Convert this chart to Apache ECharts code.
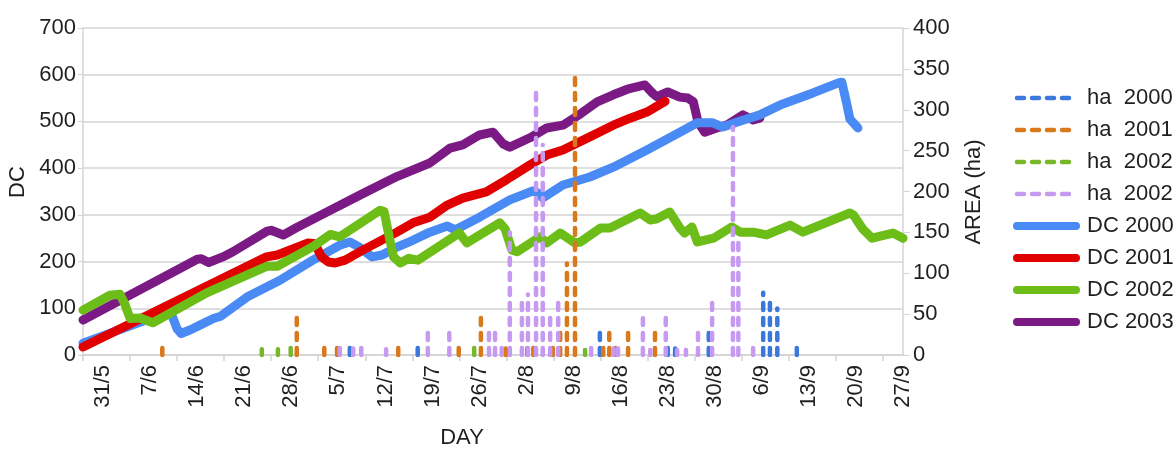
<!DOCTYPE html>
<html>
<head>
<meta charset="utf-8">
<script src="https://cdn.jsdelivr.net/npm/echarts@6/dist/echarts.min.js"></script>
<style>
  html, body { margin: 0; padding: 0; background: #ffffff; }
  #chart { width: 1173px; height: 449px; }
</style>
</head>
<body>
<div id="chart"></div>
<script>
// x values are days into the season, day 0 = 28 May.
const TICK_DAYS = [0, 7, 14, 21, 28, 35, 42, 49, 56, 63, 70, 77, 84, 91, 98, 105, 112, 119];
const LABEL_DAYS = [3, 10, 17, 24, 31, 38, 45, 52, 59, 66, 73, 80, 87, 94, 101, 108, 115, 122];
const LABEL_TEXT = ['31/5', '7/6', '14/6', '21/6', '28/6', '5/7', '12/7', '19/7', '26/7',
                    '2/8', '9/8', '16/8', '23/8', '30/8', '6/9', '13/9', '20/9', '27/9'];

// Drought Code per season, [day, DC]
const DC_2000 = [[0,25],[6,57],[12,89],[12.6,92],[13.3,82],[14,56],[14.6,46],[16,54],[17.4,64],[19.4,78],
  [20.5,83],[24.4,124],[29.3,160],[34.2,203],[38.2,235],[39.7,242],[41,232],[43,210],[44.5,214],[46.7,231],
  [49,245],[51.6,263],[54.2,276],[55.4,268],[59,295],[63.5,332],[66.9,351],[67.7,347],[68.4,336],[71.4,364],
  [75.4,381],[78.9,402],[83.9,439],[88.8,477],[91.4,497],[93.7,497],[95.2,488],[97.8,501],[100.7,514],
  [103.7,535],[108.6,561],[112.3,582],[112.9,584],[113.6,540],[114.1,505],[115.3,486]];
const DC_2001 = [[0,17],[27.3,210],[28.9,214],[33.5,240],[34.5,238],[35.5,210],[36.5,199],[37.5,197],[39,203],
  [41.7,225],[46.7,263],[49.1,283],[51.6,295],[54.2,321],[56.5,336],[60,349],[63,375],[66.5,407],[69,428],
  [71.4,439],[75.4,467],[78.9,492],[81.4,507],[83.9,520],[86.6,543]];
const DC_2002 = [[0,96],[4,128],[5.5,130],[6.2,110],[7,78],[8.5,79],[10.4,69],[18.4,133],[27.4,190],[28.9,190],
  [34.2,232],[36.8,258],[38.2,253],[44.2,310],[44.8,307],[45.6,250],[46.2,210],[47.2,197],[48.5,207],[49.8,203],
  [56,261],[57.1,240],[62,283],[62.8,270],[63.8,225],[64.6,221],[68,253],[69,240],[71,261],[73.2,240],[74,242],
  [77,272],[78.4,272],[82.9,304],[84.4,289],[85.3,291],[87.3,306],[88.8,272],[89.5,261],[90.6,274],[91.4,242],
  [93.8,250],[96.5,274],[97.8,263],[99.7,263],[101.7,257],[105.2,278],[107.1,263],[114.1,304],[114.6,300],
  [116,270],[117.4,250],[120.5,261],[122,250]];
const DC_2003 = [[0,75],[17,205],[17.6,206],[18.7,198],[20.8,210],[22.3,221],[27.4,265],[28,267],[29.8,257],
  [31.8,273],[36.8,310],[41.7,346],[46.7,382],[51.6,411],[54.6,443],[56.5,450],[59,471],[61,477],[62.5,452],
  [63.5,445],[66.5,465],[69,486],[71.4,492],[74,516],[76.5,542],[78.9,557],[81,569],[83.6,578],[84.7,561],
  [85.4,553],[87,563],[88.8,552],[90,550],[90.8,542],[91.5,499],[92.5,477],[94.3,486],[95.8,492],[98.2,514],
  [99.7,503],[100.7,507]];

// Burnt area per day, [day, ha]
const HA_2000 = [[39.7,12],[49.8,9],[76.9,34],[87,10],[88.1,8],[93.1,35],[101.2,76],[102.2,66],[103.3,57],[106.2,10]];
const HA_2001 = [[11.8,15],[31.8,48],[35.9,12],[37.8,15],[46.9,15],[55.9,10],[59.2,46],[62.9,8],[66.1,15],[67,15],
  [69.9,12],[71,34],[72,112],[73.2,342],[77.4,15],[78.3,34],[79.2,15],[81.1,35],[85.1,27]];
const HA_2002 = [[26.6,7],[29,7],[30.9,9],[58.2,11],[74.7,6]];
const HA_2002B = [[38.2,12],[40.2,8],[41.4,15],[45.1,7],[51.3,33],[54.5,33],[60.4,27],[61.3,34],[62.3,15],
  [63.5,150],[65.3,68],[66.2,74],[67.4,330],[68.4,257],[69.5,54],[70.7,65],[75.6,12],[78.9,8],[79.6,8],
  [83.3,45],[84.4,6],[86.7,55],[88.4,6],[89.7,6],[91.5,27],[93.6,67],[96.7,279],[97.5,138],[99.7,15]];

const FONT = 'Liberation Sans, Arial, sans-serif';
const TEXT = '#1f1f1f';
const AXIS = '#d4d4d4';

// each area value becomes a vertical stem from the baseline, separated by gaps
function stems(pairs) {
  const out = [];
  pairs.forEach(function (p) { out.push([p[0], 0], [p[0], p[1]], [p[0], null]); });
  return out;
}

function dcSeries(name, data, color) {
  return {
    name: name, type: 'line', data: data, yAxisIndex: 0, symbol: 'none', smooth: false,
    lineStyle: { color: color, width: 9, cap: 'round', join: 'round' },
    itemStyle: { color: color }, silent: true
  };
}
function haSeries(name, data, color) {
  return {
    name: name, type: 'line', data: stems(data), yAxisIndex: 1, symbol: 'none', z: 5,
    connectNulls: false,
    lineStyle: { color: color, width: 4.5, type: [7, 8], cap: 'round' },
    itemStyle: { color: color }, silent: true
  };
}

const C = {
  dc2000: '#4a8af4', dc2001: '#e00000', dc2002: '#6cbd18', dc2003: '#7b1a84',
  ha2000: '#3a78dc', ha2001: '#d9791c', ha2002: '#76b82a', ha2002b: '#c79af2'
};

const chart = echarts.init(document.getElementById('chart'), null, { renderer: 'canvas' });
const dashIcon = { width: 4.5, type: [7, 8], cap: 'round' };
const solidIcon = { width: 8, cap: 'round' };
const noDot = { opacity: 0 };

chart.setOption({
  animation: false,
  backgroundColor: '#ffffff',
  textStyle: { fontFamily: FONT },
  grid: { left: 83, right: 270, top: 28, bottom: 94, containLabel: false },
  legend: {
    orient: 'vertical', left: 1008, top: 82,
    itemWidth: 59, itemHeight: 14, itemGap: 10,
    itemStyle: noDot,
    textStyle: { fontSize: 22, color: TEXT, fontFamily: FONT, lineHeight: 22, padding: [0, 0, 0, 6] },
    selectedMode: false,
    data: [
      { name: 'ha  2000', lineStyle: dashIcon, itemStyle: noDot },
      { name: 'ha  2001', lineStyle: dashIcon, itemStyle: noDot },
      { name: 'ha  2002', lineStyle: dashIcon, itemStyle: noDot },
      { name: 'ha  2002 ', lineStyle: dashIcon, itemStyle: noDot },
      { name: 'DC 2000', lineStyle: solidIcon, itemStyle: noDot },
      { name: 'DC 2001', lineStyle: solidIcon, itemStyle: noDot },
      { name: 'DC 2002', lineStyle: solidIcon, itemStyle: noDot },
      { name: 'DC 2003', lineStyle: solidIcon, itemStyle: noDot }
    ]
  },
  xAxis: {
    type: 'value', min: 0, max: 122,
    axisLine: { show: true, onZero: false, lineStyle: { color: AXIS, width: 1.5 } },
    splitLine: { show: false },
    axisTick: { show: true, customValues: TICK_DAYS, length: 6, lineStyle: { color: AXIS, width: 1.5 } },
    axisLabel: {
      customValues: LABEL_DAYS, rotate: 90, margin: 10,
      fontSize: 22, color: TEXT, fontFamily: FONT,
      formatter: function (v) { const i = LABEL_DAYS.indexOf(v); return i < 0 ? '' : LABEL_TEXT[i]; }
    }
  },
  yAxis: [
    {
      type: 'value', min: 0, max: 700, interval: 100, position: 'left',
      axisLine: { show: true, lineStyle: { color: AXIS, width: 1.5 } },
      axisTick: { show: true, length: 5, lineStyle: { color: AXIS } },
      splitLine: { show: true, lineStyle: { color: AXIS, width: 1.5 } },
      axisLabel: { fontSize: 22, color: TEXT, fontFamily: FONT, margin: 7 }
    },
    {
      type: 'value', min: 0, max: 400, interval: 50, position: 'right',
      axisLine: { show: true, lineStyle: { color: AXIS, width: 1.5 } },
      axisTick: { show: true, length: 7, lineStyle: { color: AXIS } },
      splitLine: { show: false },
      axisLabel: { fontSize: 22, color: TEXT, fontFamily: FONT, margin: 10 }
    }
  ],
  graphic: [
    { type: 'text', x: 18, y: 182, rotation: Math.PI / 2,
      style: { text: 'DC', font: '22px ' + FONT, fill: TEXT, align: 'center', verticalAlign: 'middle' } },
    { type: 'text', x: 974, y: 192, rotation: Math.PI / 2,
      style: { text: 'AREA (ha)', font: '22px ' + FONT, fill: TEXT, align: 'center', verticalAlign: 'middle' } },
    { type: 'text', x: 462, y: 438,
      style: { text: 'DAY', font: '22px ' + FONT, fill: TEXT, align: 'center', verticalAlign: 'middle' } }
  ],
  series: [
    dcSeries('DC 2003', DC_2003, C.dc2003),
    dcSeries('DC 2000', DC_2000, C.dc2000),
    dcSeries('DC 2001', DC_2001, C.dc2001),
    dcSeries('DC 2002', DC_2002, C.dc2002),
    haSeries('ha  2000', HA_2000, C.ha2000),
    haSeries('ha  2001', HA_2001, C.ha2001),
    haSeries('ha  2002', HA_2002, C.ha2002),
    haSeries('ha  2002 ', HA_2002B, C.ha2002b)
  ]
});
</script>
</body>
</html>
